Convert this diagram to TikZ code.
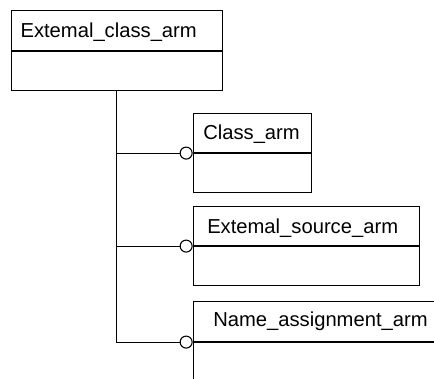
\documentclass[tikz,border=0pt]{standalone}
\usepackage{fontspec}
\setmainfont{Liberation Sans}
\usetikzlibrary{positioning}
\begin{document}
\begin{tikzpicture}[x=1pt,y=-1pt,line width=1.1pt]
			\newcommand{\myfontbox}[1]{
				\fontsize{20.2}{24}\selectfont{#1}
			}
			\tikzset{
				part/.style={draw,rectangle,anchor=north west,inner sep=0pt},
				ring/.style={draw,circle,fill=white,inner sep=0pt,minimum size=12pt},
				title/.style={anchor=base west,inner sep=0pt}
			}
			%Frame of the picture
			\useasboundingbox (0,0) rectangle (434,379);
			\clip (0,0) rectangle (434,379);
			%Top box
			\node [part,minimum width=210.7pt,minimum height=40pt] (extHead) at (11,10) {};
			\node [part,minimum width=210.7pt,minimum height=39pt] (extBody) at (extHead.south west) {};
			%Class box
			\node [part,minimum width=118pt,minimum height=39pt] (classHead) at (192.7,113) {};
			\node [part,minimum width=118pt,minimum height=39pt] (classBody) at (classHead.south west) {};
			%Source box
			\node [part,minimum width=226.3pt,minimum height=39.3pt] (sourceHead) at (192.7,205.7) {};
			\node [part,minimum width=226.3pt,minimum height=39pt] (sourceBody) at (sourceHead.south west) {};
			%Name box, cut by the frame
			\node [part,minimum width=260pt,minimum height=40pt] (nameHead) at (192.7,301) {};
			\node [part,minimum width=260pt,minimum height=60pt] (nameBody) at (nameHead.south west) {};
			%Texts
			\node [title] (extText) at (20,37.3) {\myfontbox{Extemal\_class\_arm}};
			\node [title] (classText) at (202.7,140) {\myfontbox{Class\_arm}};
			\node [title] (sourceText) at (206.7,233.3) {\myfontbox{Extemal\_source\_arm}};
			\node [title] (nameText) at (212.7,326.7) {\myfontbox{Name\_assignment\_arm}};
			%Circles at the ends of the branches
			\node [ring,left=0pt of classHead.south west] (classRing) {};
			\node [ring,left=0pt of sourceHead.south west] (sourceRing) {};
			\node [ring,left=0pt of nameHead.south west] (nameRing) {};
			%Tree lines
			\coordinate (trunkEnd) at (extBody.south |- nameRing);
			\draw (extBody.south) -- (trunkEnd) -- (nameRing.west);
			\draw (extBody.south |- classRing) -- (classRing.west);
			\draw (extBody.south |- sourceRing) -- (sourceRing.west);
\end{tikzpicture}
\end{document}
